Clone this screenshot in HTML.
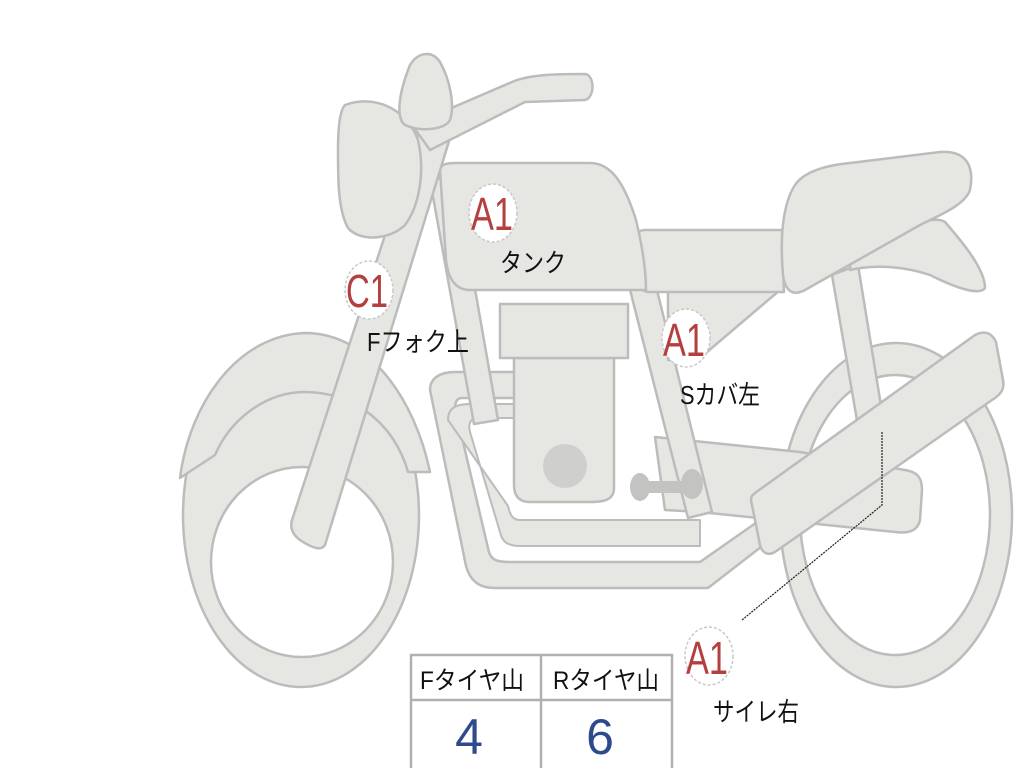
<!DOCTYPE html>
<html><head><meta charset="utf-8"><style>
html,body{margin:0;padding:0;background:#fff;}
svg{display:block}
text{font-family:"Liberation Sans","Noto Sans CJK JP",sans-serif;}
</style></head><body>
<svg width="1024" height="768" viewBox="0 0 1024 768" xmlns="http://www.w3.org/2000/svg">
<g fill="#e6e6e3" stroke="#bcbcbc" stroke-width="2.5" stroke-linejoin="round">
<path fill-rule="evenodd" d="M183,515 a118,172 0 1,0 236,0 a118,172 0 1,0 -236,0 Z M211,562 a91,95 0 1,0 182,0 a91,95 0 1,0 -182,0 Z"/>
<path fill-rule="evenodd" d="M780,515 a116,172 0 1,0 232,0 a116,172 0 1,0 -232,0 Z M800,515 a95,140 0 1,0 190,0 a95,140 0 1,0 -190,0 Z"/>
<path d="M180,478 C190,400 240,335 305,333 C370,333 415,400 430,472 L408,472 C395,425 355,392 305,392 C265,392 230,420 215,455 Z"/>
<path d="M832,275 L858,265 L885,430 L860,438 Z"/>
<path d="M850,250 C900,225 935,215 945,222 C965,245 985,270 985,288 C980,295 960,290 930,275 C900,265 870,265 850,270 Z"/>
<path d="M430,390 C430,378 440,372 455,372 L520,372 L520,398 L462,398 C456,398 454,404 456,412 L488,548 C490,560 496,562 510,562 L700,562 L760,520 L770,540 L708,588 L495,588 C478,588 470,580 466,566 Z"/>
<path d="M448,420 C448,408 456,404 470,404 L520,404 L520,418 L478,418 C470,418 468,424 470,432 L500,532 C502,542 508,546 520,546 L700,546 L700,520 L520,520 C512,520 510,514 508,506 Z" stroke-width="2"/>
<path d="M655,437 L800,452 L905,470 C918,472 922,478 922,490 L920,520 C918,530 910,534 895,532 L700,512 L665,510 Z"/>
<path d="M430,180 L455,175 L498,420 L474,424 Z"/>
<path d="M625,270 L650,262 L712,512 L688,518 Z"/>
<path d="M514,358 L614,358 L614,488 C614,500 604,502 590,502 L530,502 C518,502 514,495 514,485 Z"/>
<rect x="500" y="304" width="128" height="54"/>
<circle cx="565" cy="466" r="22" fill="#cfcfcd" stroke="none"/>
<path d="M668,290 L780,290 L700,358 L668,360 Z"/>
<path d="M645,230 L782,230 L784,292 L650,292 C640,292 637,285 637,270 L637,240 C637,232 640,230 645,230 Z"/>
<path d="M440,170 C440,165 446,163 455,163 L590,163 C612,163 625,185 636,220 C642,245 646,270 646,290 L470,290 C455,290 448,278 446,260 Z"/>
<path d="M795,185 C805,170 830,165 850,163 L940,152 C965,150 975,165 970,190 C965,205 940,215 920,225 L805,290 C792,297 785,290 783,275 C780,240 782,205 795,185 Z"/>
<path d="M755,493 L975,335 C985,330 992,333 996,342 L1003,380 C1005,390 1000,395 992,400 L775,552 C768,556 762,553 760,545 L752,505 C750,498 751,496 755,493 Z"/>
<path d="M292,520 L420,128 L450,138 L325,545 C322,550 315,550 300,540 C292,534 290,527 292,520 Z"/>
<path d="M345,105 C370,95 405,105 418,140 C425,170 420,205 405,225 C390,240 360,242 348,228 C338,210 338,180 338,150 C338,125 340,110 345,105 Z"/>
<path d="M412,125 L512,82 C530,74 560,74 585,74 C595,75 595,98 585,100 L525,102 L430,150 Z"/>
<path d="M410,65 C418,52 432,50 440,62 C450,80 455,105 450,120 C445,130 420,132 405,125 C396,118 398,95 410,65 Z"/>
</g>
<g fill="#c3c3c1">
<rect x="632" y="481" width="70" height="12" rx="5"/>
<ellipse cx="640" cy="487" rx="10" ry="14"/>
<ellipse cx="692" cy="484" rx="11" ry="15"/>
</g>
<path d="M882,432 L882,505 L742,620" fill="none" stroke="#222" stroke-width="1.2" stroke-dasharray="2,1"/>
<g fill="#fff" stroke="#c8c8c8" stroke-width="1.5" stroke-dasharray="3,2">
<ellipse cx="493" cy="213" rx="24" ry="29"/>
<ellipse cx="369" cy="290" rx="24" ry="29"/>
<ellipse cx="686" cy="338" rx="24" ry="29"/>
<ellipse cx="709" cy="656" rx="24" ry="29"/>
</g>
<g fill="#b3403f" font-size="46">
<text x="471" y="230" textLength="42" lengthAdjust="spacingAndGlyphs">A1</text>
<text x="346" y="307" textLength="42" lengthAdjust="spacingAndGlyphs">C1</text>
<text x="663" y="356" textLength="42" lengthAdjust="spacingAndGlyphs">A1</text>
<text x="686" y="674" textLength="42" lengthAdjust="spacingAndGlyphs">A1</text>
</g>
<g fill="#111" font-size="26">
<text x="500" y="272" textLength="66" lengthAdjust="spacingAndGlyphs">タンク</text>
<text x="367" y="351" textLength="102" lengthAdjust="spacingAndGlyphs">Fフォク上</text>
<text x="680" y="404" textLength="80" lengthAdjust="spacingAndGlyphs">Sカバ左</text>
<text x="713" y="721" textLength="86" lengthAdjust="spacingAndGlyphs">サイレ右</text>
</g>
<g fill="#fff" stroke="#b0b0b0" stroke-width="2.5">
<rect x="411" y="655" width="261" height="120"/>
<line x1="411" y1="700" x2="672" y2="700"/>
<line x1="541" y1="655" x2="541" y2="768"/>
</g>
<g font-size="25" fill="#111">
<text x="420" y="689" textLength="104" lengthAdjust="spacingAndGlyphs">Fタイヤ山</text>
<text x="553" y="689" textLength="106" lengthAdjust="spacingAndGlyphs">Rタイヤ山</text>
</g>
<g font-size="50" fill="#2d4a8c" text-anchor="middle">
<text x="469" y="754">4</text>
<text x="600" y="754">6</text>
</g>
</svg>
</body></html>
